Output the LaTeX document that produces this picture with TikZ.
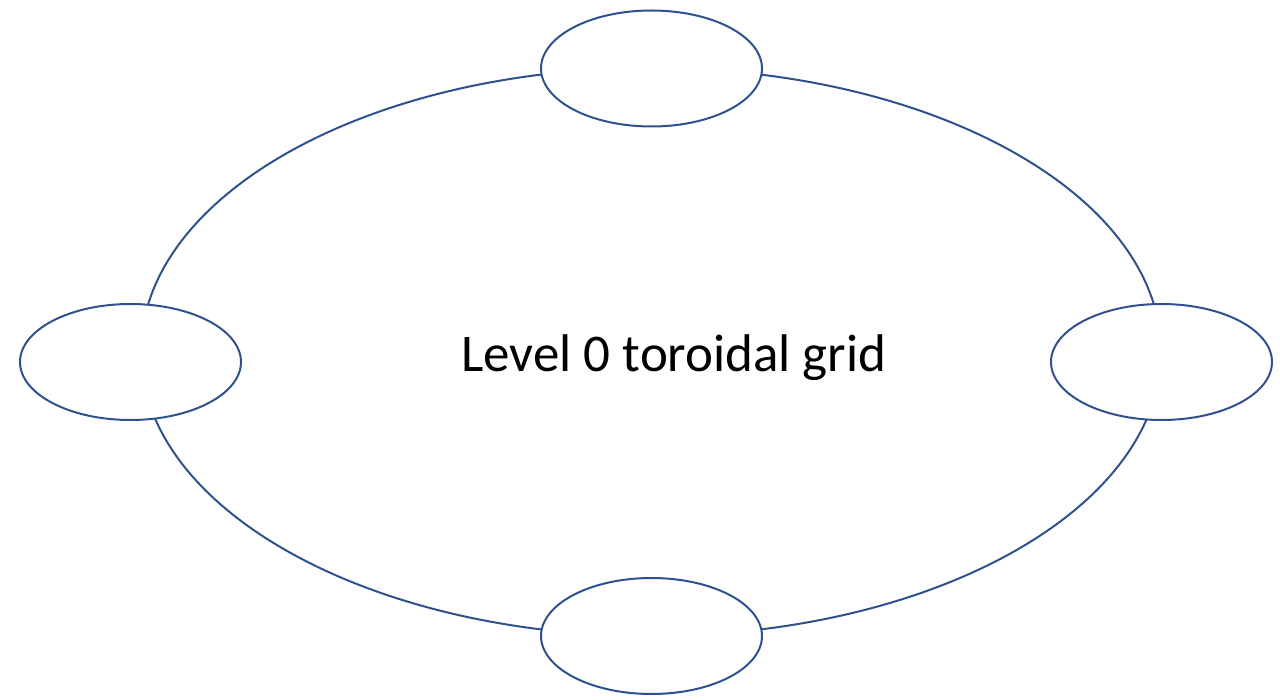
\documentclass[tikz,border=0pt]{standalone}
\usepackage{fontspec}
\setmainfont{Carlito}
\usetikzlibrary{shapes.geometric}
\definecolor{edgeblue}{HTML}{2F528F}
\begin{document}
\begin{tikzpicture}[x=1pt,y=-1pt,
  ringshape/.style={ellipse,draw=edgeblue,line width=2pt,inner sep=0pt,minimum width=1020pt,minimum height=568pt},
  cell/.style={ellipse,draw=edgeblue,fill=white,line width=2pt,inner sep=0pt,minimum width=221pt,minimum height=116pt}]
\useasboundingbox (0,0) rectangle (1280,700);
\node[ringshape] (ring) at (651,352) {};
\node[cell] (top) at (651.5,68.5) {};
\node[cell] (bottom) at (651.5,636) {};
\node[cell] (left) at (130.5,362) {};
\node[cell] (right) at (1161.5,362) {};
\node[anchor=base,inner sep=0pt,font=\fontsize{53pt}{62pt}\selectfont] (label) at (674,372) {Level 0 toroidal grid};
\end{tikzpicture}
\end{document}
